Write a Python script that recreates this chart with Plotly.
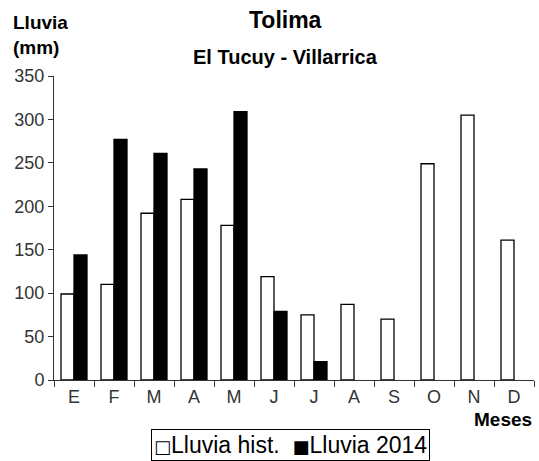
import plotly.graph_objects as go

months = ["E", "F", "M", "A", "M ", "J", "J ", "A ", "S", "O", "N", "D"]
month_labels = ["E", "F", "M", "A", "M", "J", "J", "A", "S", "O", "N", "D"]
lluvia_hist = [99, 110, 192, 208, 178, 119, 75, 87, 70, 249, 305, 161]
lluvia_2014 = [144, 277, 261, 243, 309, 79, 21, None, None, None, None, None]
y_ticks = [0, 50, 100, 150, 200, 250, 300, 350]

FONT = "Arial, Liberation Sans, sans-serif"

fig = go.Figure()
fig.add_trace(go.Bar(x=months, y=lluvia_hist, name="Lluvia hist.",
                     marker=dict(color="white", line=dict(color="black", width=1.3))))
fig.add_trace(go.Bar(x=months, y=lluvia_2014, name="Lluvia 2014",
                     marker=dict(color="black", line=dict(color="black", width=1.3))))

L, R, T, B = 54, 5, 76, 81
W, H = 539, 461
pw, ph = W - L - R, H - T - B

def px(x):
    return (x - L) / pw

def py(y):
    return (H - B - y) / ph

SQ = "<span style='font-family:DejaVu Sans;font-size:18px'>{}</span>"

fig.update_layout(
    width=W, height=H,
    margin=dict(l=L, r=R, t=T, b=B),
    paper_bgcolor="white", plot_bgcolor="white",
    barmode="group", bargap=0.35, bargroupgap=0,
    showlegend=False,
    font=dict(family=FONT, color="black"),
    xaxis=dict(type="category", range=[-0.5, 11.5], tickmode="array",
               tickvals=months, ticktext=month_labels, tickson="boundaries",
               ticks="outside", ticklen=6, tickcolor="#333", showline=True,
               linecolor="#333", linewidth=1, showgrid=False,
               tickfont=dict(size=18, color="#333", family=FONT)),
    yaxis=dict(range=[0, 350], tickvals=y_ticks, ticks="outside", ticklen=5,
               tickcolor="#333", showline=True, linecolor="#333", linewidth=1,
               showgrid=False, zeroline=False,
               tickfont=dict(size=18, color="#333", family=FONT)),
    annotations=[
        dict(text="<b>Tolima</b>", xref="paper", yref="paper", x=px(285), y=py(20),
             xanchor="center", yanchor="middle", showarrow=False,
             font=dict(size=23, family=FONT)),
        dict(text="<b>El Tucuy - Villarrica</b>", xref="paper", yref="paper",
             x=px(285), y=py(57), xanchor="center", yanchor="middle", showarrow=False,
             font=dict(size=20, family=FONT)),
        dict(text="<b>Lluvia<br>(mm)</b>", xref="paper", yref="paper", x=px(11),
             y=py(10), xanchor="left", yanchor="top", align="left", showarrow=False,
             font=dict(size=19, family=FONT)),
        dict(text="<b>Meses</b>", xref="paper", yref="paper", x=px(534), y=py(419),
             xanchor="right", yanchor="middle", showarrow=False,
             font=dict(size=19, family=FONT)),
        dict(text=SQ.format("\u25a1") + "Lluvia hist.\u00a0\u00a0" +
                  SQ.format("\u25a0") + "Lluvia 2014",
             xref="paper", yref="paper", x=px(290), y=py(445),
             xanchor="center", yanchor="middle", showarrow=False,
             bordercolor="black", borderwidth=1, borderpad=2,
             font=dict(size=23, family=FONT)),
    ],
)

fig.write_html("out.html", config={"displayModeBar": False},
               post_script="document.body.style.margin='0';")
